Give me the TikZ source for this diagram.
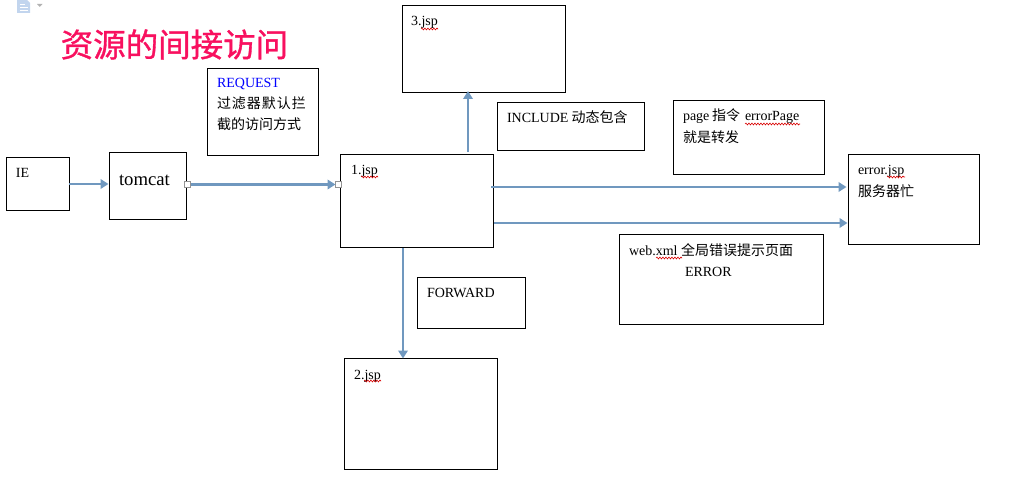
\documentclass[tikz,border=0pt]{standalone}
\usepackage{fontspec}
\setmainfont{Liberation Serif}
\newfontfamily\cjk{Noto Sans CJK SC}
\newfontfamily\cjkmid[FakeBold=1]{Noto Sans CJK SC}
\newfontfamily\cjkspaced[LetterSpace=7]{Noto Sans CJK SC}
\usetikzlibrary{arrows.meta,decorations.pathmorphing}
\definecolor{linkblue}{HTML}{7098BF}
\definecolor{titlepink}{HTML}{F8105F}
\definecolor{iconblue}{HTML}{C2D5EE}
\newcommand{\lat}{\fontsize{14}{16}\selectfont}
\newcommand{\han}{\fontsize{14}{16}\selectfont\cjk}
\tikzset{
  box/.style={draw=black,line width=1pt,fill=white,anchor=north west,inner sep=0pt,outer sep=0pt},
  txt/.style={anchor=base west,inner sep=0pt,outer sep=0pt,font=\lat,text=black},
  link/.style={draw=linkblue,line width=2.2pt,-{Triangle[length=8pt,width=9.5pt]}},
  handle/.style={draw=gray!85,fill=white,line width=0.8pt,minimum size=6pt,inner sep=0pt,outer sep=0pt},
  squiggle/.style={draw=red!85!black,line width=0.6pt,decorate,decoration={snake,segment length=3pt,amplitude=0.9pt}}
}
\begin{document}
\begin{tikzpicture}[x=1pt,y=-1pt]
\useasboundingbox (0,0) rectangle (1009,492);
% toolbar icon
\fill[iconblue] (17,0) -- (27,0) -- (30,3) -- (30,13) -- (17,13) -- cycle;
\draw[white,line width=0.8pt] (19.5,4) -- (25,4) (19.5,7) -- (28,7) (19.5,10) -- (28,10);
\fill[gray!60] (37,4) -- (42.5,4) -- (39.75,7) -- cycle;
% title
\node[anchor=base west,inner sep=0,text=titlepink,font=\fontsize{32.5}{34}\cjkmid] (title) at (60.5,56.8) {资源的间接访问};
% boxes
\node[box,minimum width=63.5pt,minimum height=53pt] (ie) at (6,157) {};
\node[box,minimum width=77pt,minimum height=66.5pt] (tomcat) at (109.5,152.5) {};
\node[box,minimum width=111pt,minimum height=87pt] (request) at (207.5,68.5) {};
\node[box,minimum width=163pt,minimum height=87pt] (jsp3) at (402.5,5.5) {};
\node[box,minimum width=153pt,minimum height=93pt] (jsp1) at (340.5,154.5) {};
\node[box,minimum width=147pt,minimum height=48pt] (include) at (497.5,102.5) {};
\node[box,minimum width=151pt,minimum height=74pt] (page) at (673.5,100.5) {};
\node[box,minimum width=131pt,minimum height=90pt] (errorjsp) at (848.5,154.5) {};
\node[box,minimum width=204pt,minimum height=90pt] (webxml) at (619.5,234.5) {};
\node[box,minimum width=108pt,minimum height=51pt] (forward) at (417.5,277.5) {};
\node[box,minimum width=153pt,minimum height=111pt] (jsp2) at (344.5,358.5) {};
% texts
\node[txt] (ieT) at (16,177) {IE};
\node[txt,font=\fontsize{18.7}{20}\selectfont] (tomcatT) at (119,185) {tomcat};
\node[txt,text=blue] (requestT) at (217,88) {REQUEST};
\node[txt,font=\fontsize{14}{16}\cjkspaced] (requestA) at (217,109) {过滤器默认拦};
\node[txt,font=\han] (requestB) at (217,130) {截的访问方式};
\node[txt] (jsp3T) at (411,26) {3.jsp};
\node[txt] (jsp1T) at (351,175) {1.jsp};
\node[txt] (jsp2T) at (354,379) {2.jsp};
\node[txt] (includeA) at (507,123) {INCLUDE};
\node[txt,font=\han] (includeB) at (571.5,123) {动态包含};
\node[txt] (pageA) at (683,121) {page};
\node[txt,font=\han] (pageB) at (712,121) {指令};
\node[txt] (pageC) at (745,121) {errorPage};
\node[txt,font=\han] (pageD) at (683,142.5) {就是转发};
\node[txt] (errorA) at (858,175) {error.jsp};
\node[txt,font=\han] (errorB) at (858,196) {服务器忙};
\node[txt] (webA) at (629,255) {web.xml};
\node[txt,font=\han] (webB) at (681,255) {全局错误提示页面};
\node[txt] (webC) at (685,276) {ERROR};
\node[txt] (forwardT) at (427,297) {FORWARD};
% spell-check underlines
\draw[squiggle] (361,177) -- (378,177);
\draw[squiggle] (745,124) -- (800,124);
\draw[squiggle] (887,177) -- (905,177);
\draw[squiggle] (656,258) -- (682,258);
\draw[squiggle] (364,381) -- (381,381);
\draw[squiggle] (421,29) -- (438,29);
% connectors
\node[handle] (h1) at (187.5,184.5) {};
\node[handle] (h2) at (338.5,184.5) {};
\coordinate (ieOut) at (69,184);
\coordinate (incOut) at (468,152);
\coordinate (fwdOut) at (403,248);
\coordinate (errOutA) at (491,187);
\coordinate (errOutB) at (494,223);
\draw[link] (ieOut) -- ([xshift=-1pt]ieOut -| tomcat.west);
\draw[link] (h1) -- (h2);
\draw[link] (incOut) -- ([yshift=1.5pt]incOut |- jsp3.south);
\draw[link] (fwdOut) -- (fwdOut |- jsp2.north);
\draw[link] (errOutA) -- ([xshift=-2pt]errOutA -| errorjsp.west);
\draw[link] (errOutB) -- ([xshift=-1pt]errOutB -| errorjsp.west);
\end{tikzpicture}
\end{document}
